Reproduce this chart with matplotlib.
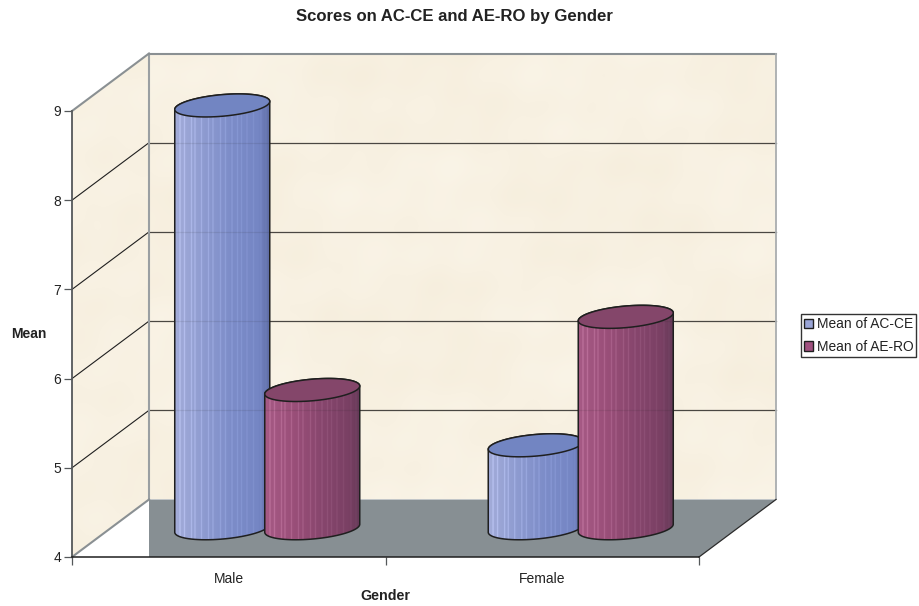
import matplotlib
matplotlib.use('Agg')
import matplotlib.pyplot as plt
from matplotlib.patches import Polygon, Patch
from matplotlib.colors import to_rgb
import numpy as np

plt.rcParams['font.family'] = ['Liberation Sans', 'DejaVu Sans']

genders = ['Male', 'Female']
series_names = ['Mean of AC-CE', 'Mean of AE-RO']
ac_ce = [8.74, 4.93]
ae_ro = [5.55, 6.37]
y_ticks = [4, 5, 6, 7, 8, 9]

# pseudo 3D box: how far the back wall sits from the front plane, in data units
DEPTH_X = 77 / 313.5
DEPTH_Y = 57.5 / 89.2

BAR_OFFSET = 45 / 313.5
BAR_HALF = 47.5 / 313.5
ELL_H = 10.8 / 89.2
ELL_TILT = 4 / 89.2

side_colors = [
    ['#a3acd9', '#8e9bd0', '#7c8cc8', '#7586c4', '#5f6da6'],
    ['#a65a85', '#9a4f79', '#87466d', '#7a4064', '#663a58'],
]
top_colors = ['#7285c2', '#84466a']
legend_colors = ['#9aa5d6', '#a0507f']
# positions of the pale pinstripes across the cylinder, left to right
stripes = [0.05, 0.1, 0.17, 0.21, 0.28, 0.35, 0.4, 0.48, 0.53, 0.6, 0.66, 0.7, 0.76, 0.83, 0.91, 0.96]

fig = plt.figure(figsize=(9.19, 6.06), dpi=100, facecolor='white')
ax = fig.add_axes([72 / 919, 49 / 606, 627 / 919, 446 / 606])
ax.set_facecolor('none')


def paper(n_rows, n_cols, phase):
    # soft mottled parchment built from a few overlapping waves
    yy, xx = np.mgrid[0:n_rows, 0:n_cols]
    m = (np.sin(xx / 61 + phase) * np.cos(yy / 43 - phase)
         + 0.8 * np.sin(xx / 29.3 + yy / 37.1 + 2 * phase) * np.sin(yy / 19.7 - xx / 71.0)
         + 0.5 * np.cos(xx / 13.1 - yy / 23.7 + phase) * np.sin(xx / 17.9 + yy / 11.3))
    base = np.array([248, 241, 226]) / 255
    amp = np.array([0.004, 0.006, 0.010])
    return np.clip(base[None, None, :] + m[..., None] * amp, 0, 1)


# back wall
wall = ax.imshow(paper(445, 627, 0.4), extent=(DEPTH_X, 2 + DEPTH_X, 4 + DEPTH_Y, 9 + DEPTH_Y),
                 aspect='auto', zorder=1, interpolation='bilinear')
wall.set_clip_box(fig.bbox)

# side wall
side_xy = [(0, 4), (DEPTH_X, 4 + DEPTH_Y), (DEPTH_X, 9 + DEPTH_Y), (0, 9)]
side_patch = Polygon(side_xy, closed=True, facecolor='none', edgecolor='none', transform=ax.transData)
ax.add_patch(side_patch)
side = ax.imshow(paper(503, 77, 2.1), extent=(0, DEPTH_X, 4, 9 + DEPTH_Y),
                 aspect='auto', zorder=1, interpolation='bilinear')
side.set_clip_box(fig.bbox)
side.set_clip_path(side_patch)

# floor, squared off on the left where the side wall stops
floor = Polygon([(DEPTH_X, 4 + DEPTH_Y), (2 + DEPTH_X, 4 + DEPTH_Y), (2, 4), (DEPTH_X, 4)],
                closed=True, facecolor='#878f93', edgecolor='none', zorder=1.5, clip_on=False)
ax.add_patch(floor)

# gridlines on both walls
grid_values = y_ticks[1:-1]
for v in grid_values:
    ax.plot([DEPTH_X, 2 + DEPTH_X], [v + DEPTH_Y, v + DEPTH_Y], color='#4a4742', lw=0.9,
            zorder=2, clip_on=False)
    ax.plot([0, DEPTH_X], [v, v + DEPTH_Y], color='#1f1f1f', lw=0.8, zorder=2, clip_on=False)

# box outline
edge = '#8a9093'
ax.plot([DEPTH_X, DEPTH_X], [4 + DEPTH_Y, 9 + DEPTH_Y], color='#9a9fa2', lw=1.5, zorder=2.1, clip_on=False)
ax.plot([DEPTH_X, 2 + DEPTH_X], [9 + DEPTH_Y, 9 + DEPTH_Y], color=edge, lw=1.5, zorder=2.1, clip_on=False)
ax.plot([2 + DEPTH_X, 2 + DEPTH_X], [4 + DEPTH_Y, 9 + DEPTH_Y], color='#a9adaf', lw=1.3, zorder=2.1, clip_on=False)
ax.plot([0, DEPTH_X], [9, 9 + DEPTH_Y], color=edge, lw=1.5, zorder=2.1, clip_on=False)
ax.plot([0, DEPTH_X], [4, 4 + DEPTH_Y], color=edge, lw=1.5, zorder=2.1, clip_on=False)
ax.plot([2, 2 + DEPTH_X], [4, 4 + DEPTH_Y], color='#2b2b2b', lw=0.9, zorder=2.1, clip_on=False)


def ellipse_xy(cx, cy, t):
    # the cap leans up to the right
    return cx + BAR_HALF * np.cos(t), cy + ELL_TILT * np.cos(t) + ELL_H * np.sin(t)


def cylinder(center, value, colors, top_color, z):
    cx = center + DEPTH_X / 2
    base = 4 + DEPTH_Y / 2
    top = value + DEPTH_Y / 2

    # outline of the body: up the left side, across the top, round the bottom front
    bx, by = ellipse_xy(cx, base, np.linspace(np.pi, 2 * np.pi, 80))
    tx, ty = ellipse_xy(cx, top, np.linspace(0, np.pi, 80))
    body = np.r_[np.c_[bx, by], np.c_[tx, ty]]
    outline = Polygon(body, closed=True, facecolor='none', edgecolor='#1f1f1f', lw=1.1,
                      zorder=z + 0.2, clip_on=False)
    ax.add_patch(outline)

    # shaded column strip with pale pinstripes
    n = 190
    stops = np.array([to_rgb(c) for c in colors])
    u = np.linspace(0, 1, n)
    stop_pos = [0, 0.3, 0.6, 0.88, 1]
    row = np.stack([np.interp(u, stop_pos, stops[:, i]) for i in range(3)], axis=1)
    for s in stripes:
        k = int(s * (n - 1))
        row[k:k + 2] = np.clip(row[k:k + 2] + 0.10 * (1 - s) + 0.025, 0, 1)
    img = ax.imshow(row[None, :, :], extent=(cx - BAR_HALF, cx + BAR_HALF, base - 0.3, top + 0.3),
                    aspect='auto', zorder=z, interpolation='bilinear')
    img.set_clip_box(fig.bbox)
    img.set_clip_path(outline)

    # wall gridlines show faintly through the glassy body
    for v in grid_values:
        ln, = ax.plot([cx - BAR_HALF, cx + BAR_HALF], [v + DEPTH_Y, v + DEPTH_Y], color='#222222',
                      lw=0.9, alpha=0.10, zorder=z + 0.1)
        ln.set_clip_box(fig.bbox)
        ln.set_clip_path(outline)

    # top cap
    ex, ey = ellipse_xy(cx, top, np.linspace(0, 2 * np.pi, 160))
    ax.add_patch(Polygon(np.c_[ex, ey], closed=True, facecolor=top_color, edgecolor='#1f1f1f',
                         lw=1.1, zorder=z + 0.3, clip_on=False))


for i, gender in enumerate(genders):
    group = i + 0.5
    cylinder(group - BAR_OFFSET, ac_ce[i], side_colors[0], top_colors[0], 3 + 2 * i)
    cylinder(group + BAR_OFFSET, ae_ro[i], side_colors[1], top_colors[1], 4 + 2 * i)

ax.set_xlim(0, 2)
ax.set_ylim(4, 9)

for s in ['top', 'right']:
    ax.spines[s].set_visible(False)
ax.spines['left'].set_color('#55585a')
ax.spines['left'].set_linewidth(1.3)
ax.spines['bottom'].set_color('#1f1f1f')
ax.spines['bottom'].set_linewidth(1.1)
ax.spines['left'].set_zorder(2.2)
ax.spines['bottom'].set_zorder(2.2)

ax.set_yticks(y_ticks)
ax.set_yticklabels([str(v) for v in y_ticks])
ax.tick_params(axis='y', direction='out', length=5.8, width=0.9, color='#55585a', labelsize=10,
               labelcolor='#222222', pad=2)
ax.set_xticks([0, 1, 2])
ax.set_xticklabels([])
ax.set_xticks([0.5, 1.5], minor=True)
ax.set_xticklabels(genders, minor=True)
ax.tick_params(axis='x', which='major', direction='out', length=5.8, width=0.9, color='#55585a')
ax.tick_params(axis='x', which='minor', length=0, labelsize=10, labelcolor='#222222', pad=11)

fig.text(454.5 / 919, 1 - 17 / 606, 'Scores on AC-CE and AE-RO by Gender', ha='center', va='center',
         fontsize=12.1, fontweight='bold', color='#222222')
fig.text(28.5 / 919, 1 - 334 / 606, 'Mean', ha='center', va='center', fontsize=10, fontweight='bold',
         color='#222222')
fig.text(385.5 / 919, 1 - 596 / 606, 'Gender', ha='center', va='center', fontsize=10.3, fontweight='bold',
         color='#222222')

handles = [Patch(facecolor=c, edgecolor='#1f1f1f', lw=1) for c in legend_colors]
leg = fig.legend(handles, series_names, loc='center left', bbox_to_anchor=(801 / 919, 1 - 335.5 / 606),
                 bbox_transform=fig.transFigure, fontsize=9.9, frameon=True, fancybox=False,
                 edgecolor='#333333', framealpha=1, borderpad=0.2, labelspacing=0.62,
                 handlelength=0.65, handleheight=0.7, handletextpad=0.3, borderaxespad=0,
                 labelcolor='#222222')
leg.get_frame().set_linewidth(1)

fig.savefig('out.png', dpi=100, facecolor='white')
